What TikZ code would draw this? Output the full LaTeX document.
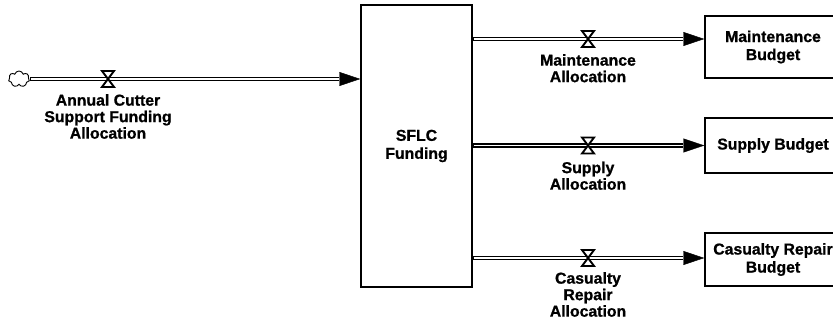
\documentclass[tikz,border=0pt]{standalone}
\usepackage{fontspec}
\newfontfamily\lblfont{Liberation Sans Bold}[FakeBold=0.9]
\usetikzlibrary{arrows.meta,shapes.symbols}
\begin{document}
\begin{tikzpicture}[x=1pt,y=-1pt,
  every node/.style={font=\lblfont\fontsize{15.8}{16.5}\selectfont,
    align=center, inner sep=0pt},
  stock/.style={draw, line width=1.4pt, fill=white, rectangle,
    font=\lblfont\fontsize{15.8}{18}\selectfont},
  pipe/.style={line width=4.8pt,
    -{Triangle[length=21pt,width=14pt,line width=0.4pt]}},
  pipecore/.style={white, line width=1.2pt, shorten >=21pt, shorten <=0.9pt},
  valve/.pic={\draw[line width=1.9pt, fill=white, line join=miter]
    (-6,-8) -- (6,-8) -- (-6,8) -- (6,8) -- cycle;}
]
\useasboundingbox (0,0) rectangle (833,320);

% stocks
\node[stock, minimum width=111pt, minimum height=282pt] (sflc) at (416.5,146)
  {SFLC\\Funding};
\node[stock, minimum width=136pt, minimum height=62pt] (mb) at (773,47)
  {Maintenance\\Budget};
\node[stock, minimum width=136pt, minimum height=55pt] (sb) at (773,145.5)
  {Supply Budget};
\node[stock, minimum width=136pt, minimum height=53pt] (cb) at (773,259.5)
  {Casualty Repair\\Budget};

% source cloud
\node[cloud, draw, cloud puffs=7, aspect=1.3, line width=0.9pt,
  minimum width=21pt, minimum height=16pt] (src) at (19,79) {};

% flow end points
\coordinate (inA) at (src.east);
\coordinate (inB) at (sflc.west |- src.east);
\coordinate (mA) at (sflc.east |- 0,39);
\coordinate (mB) at (mb.west |- 0,39);
\coordinate (sA) at (sflc.east |- 0,145.5);
\coordinate (sB) at (sb.west |- 0,145.5);
\coordinate (cA) at (sflc.east |- 0,258);
\coordinate (cB) at (cb.west |- 0,258);

% pipes
\foreach \a/\b in {inA/inB, mA/mB, sA/sB, cA/cB}{
  \draw[pipe] (\a) -- (\b);
  \draw[pipecore] (\a) -- (\b);
}

% valves
\coordinate (vin) at (108,79);
\coordinate (vm) at (588,39);
\coordinate (vs) at (588,145.5);
\coordinate (vc) at (588,258);
\foreach \v in {vin, vm, vs, vc}{ \pic at (\v) {valve}; }

% flow labels
\node[anchor=north] (lin) at ([yshift=-15pt]vin)
  {Annual Cutter\\Support Funding\\Allocation};
\node[anchor=north] (lm) at ([yshift=-15pt]vm) {Maintenance\\Allocation};
\node[anchor=north] (ls) at ([yshift=-16pt]vs) {Supply\\Allocation};
\node[anchor=north] (lc) at ([yshift=-14pt]vc) {Casualty\\Repair\\Allocation};
\end{tikzpicture}
\end{document}
